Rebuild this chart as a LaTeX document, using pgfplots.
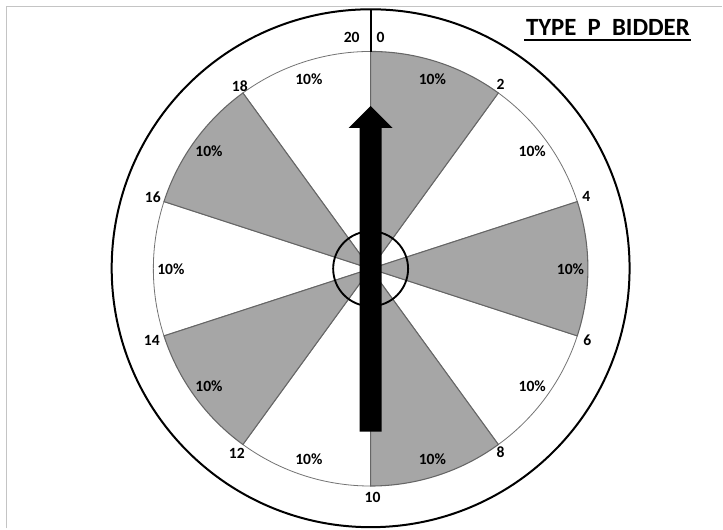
\documentclass[border=0pt]{standalone}
\usepackage{pgfplots}
\pgfplotsset{compat=1.18}
\usepackage{fontspec}
\setmainfont{Carlito}
\definecolor{slicegray}{HTML}{A6A6A6}
\definecolor{framegray}{HTML}{C4C4C4}
\begin{document}
\begin{tikzpicture}[lbl/.style={font=\fontsize{11.7}{13}\selectfont\bfseries, text=black, inner sep=0pt}]
\begin{axis}[
  x=0.75pt, y=0.75pt,
  xmin=0, xmax=723, ymin=0, ymax=529,
  y dir=reverse,
  hide axis,
  no markers,
  clip=false,
]
% picture extent
\path (axis cs:0,0) rectangle (axis cs:723,529);
% frame
\addplot[framegray, line width=1.1pt] coordinates {(6.5,529) (6.5,6.5) (723,6.5)};
% outer ring
\draw[black, line width=1.5pt] (axis cs:371,268.5) circle[radius=194.4pt];
% white slices (shares 10% each -> 36 deg)
\pgfplotsinvokeforeach{1,3,5,7,9}{
  \filldraw[fill=white, draw=black!55, line width=0.6pt]
    (axis cs:371,269) -- (axis cs:{371+217.5*sin(36*#1)},{269-217.5*cos(36*#1)})
    arc[start angle={90-36*#1}, end angle={54-36*#1}, radius=163.125pt] -- cycle;
}
% gray slices
\pgfplotsinvokeforeach{0,2,4,6,8}{
  \filldraw[fill=slicegray, draw=black!60, line width=0.8pt]
    (axis cs:371,269) -- (axis cs:{371+217.5*sin(36*#1)},{269-217.5*cos(36*#1)})
    arc[start angle={90-36*#1}, end angle={54-36*#1}, radius=163.125pt] -- cycle;
}
% slice value labels
\pgfplotsinvokeforeach{0,...,9}{
  \node[lbl] at (axis cs:{371+200*sin(36*#1+18)},{269-200*cos(36*#1+18)}) {10\%};
}
% boundary labels
\node[lbl] at (axis cs:381,37) {0};
\node[lbl] at (axis cs:352,37) {20};
\node[lbl] at (axis cs:501,84) {2};
\node[lbl] at (axis cs:587,197) {4};
\node[lbl] at (axis cs:588,341) {6};
\node[lbl] at (axis cs:501,453) {8};
\node[lbl] at (axis cs:373,498) {10};
\node[lbl] at (axis cs:237,454) {12};
\node[lbl] at (axis cs:152,341) {14};
\node[lbl] at (axis cs:153,197) {16};
\node[lbl] at (axis cs:240,86) {18};
% centre circle
\draw[black, line width=1.4pt] (axis cs:371,269) circle[radius=28.125pt];
% pointer line at top
\addplot[black, line width=1.5pt] coordinates {(371,9) (371,52)};
% arrow
\addplot[fill=black, draw=none] coordinates {
  (360,432) (382,432) (382,128) (393,128) (371,106) (349,128) (360,128) (360,432)};
% title
\node[anchor=base, font=\fontsize{18.6}{20}\selectfont\bfseries, inner sep=0pt, text=black]
  at (axis cs:608.5,35.7) {TYPE\ \ P\ \ BIDDER};
\addplot[black, line width=1.5pt] coordinates {(525,39.6) (692,39.6)};
\end{axis}
\end{tikzpicture}
\end{document}
